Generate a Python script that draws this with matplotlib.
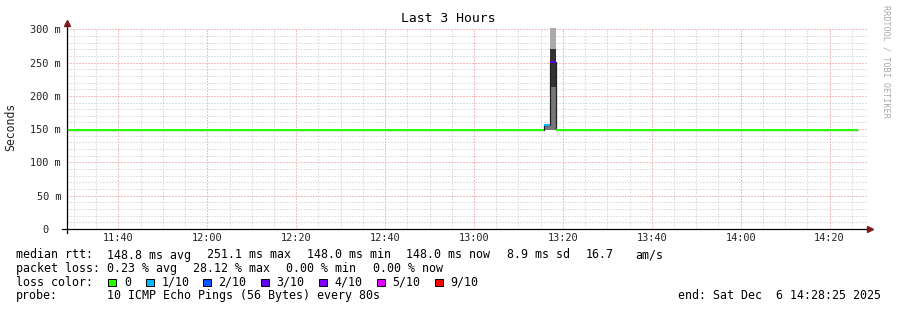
"""SmokePing 'Last 3 Hours' graph, redrawn with matplotlib."""

from datetime import datetime

import matplotlib

matplotlib.use("Agg")
import matplotlib.dates as mdates
import matplotlib.pyplot as plt
from matplotlib.patches import Rectangle

W, H = 897, 310
MONO = "DejaVu Sans Mono"

# --- data ---
day = "2025-12-06 "
t_start = "11:28:25"
t_end = "14:28:25"

# median rtt line: segments (start, end, value ms, loss count out of 10)
seg_start = ["11:28:25", "13:15:45", "13:17:05", "13:18:25"]
seg_end = ["13:15:45", "13:17:05", "13:18:25", "14:26:25"]
seg_median = [148.0, 156.0, 251.1, 148.0]
seg_loss = [0, 1, 3, 0]

# smoke bands around the median (start, end, low ms, high ms, grey)
smoke_start = ["13:15:45", "13:17:05", "13:17:05", "13:17:05"]
smoke_end = ["13:17:05", "13:18:25", "13:18:25", "13:18:25"]
smoke_low = [148.0, 148.0, 213.0, 271.0]
smoke_high = [156.0, 213.0, 271.0, 305.0]
smoke_grey = ["#777777", "#777777", "#333333", "#aaaaaa"]

loss_labels = ["0", "1/10", "2/10", "3/10", "4/10", "5/10", "9/10"]
loss_colors = ["#26ff00", "#00b8ff", "#0059ff", "#5e00ff", "#7e00ff", "#dd00ff", "#ff0000"]
loss_key = {0: 0, 1: 1, 2: 2, 3: 3, 4: 4, 5: 5, 9: 6}

y_ticks = [0, 50, 100, 150, 200, 250, 300]


def ts(s):
    return datetime.strptime(day + s, "%Y-%m-%d %H:%M:%S")


def fx(px):
    return px / W


def fy(py):
    return 1 - py / H


fig = plt.figure(figsize=(W / 100, H / 100), dpi=100)
fig.patch.set_facecolor("white")

# plot area: x 67..867 px, y 28..229 px
ax = fig.add_axes([fx(67), fy(229), 800 / W, 201 / H])
ax.set_facecolor("white")
ax.set_xlim(ts(t_start), ts(t_end))
ax.set_ylim(0, 301.9)

# grid: minor grey, major light red, both dotted
ax.xaxis.set_major_locator(mdates.MinuteLocator(byminute=[0, 20, 40]))
ax.xaxis.set_minor_locator(mdates.MinuteLocator(byminute=range(0, 60, 5)))
ax.xaxis.set_major_formatter(mdates.DateFormatter("%H:%M"))
ax.set_yticks(y_ticks)
ax.set_yticks(range(0, 301, 10), minor=True)
ax.set_yticklabels(["0  " if v == 0 else f"{v} m" for v in y_ticks])
ax.grid(which="minor", color="#c4c4c4", linestyle=(0, (1, 2)), linewidth=0.72)
ax.grid(which="major", color="#ee8080", linestyle=(0, (1, 2)), linewidth=0.72)
ax.set_axisbelow(True)
ax.tick_params(which="both", length=0)
ax.tick_params(axis="y", pad=4.3, labelsize=7.4, labelcolor="#222222")
ax.tick_params(axis="x", pad=3.0, labelsize=7.4, labelcolor="#222222")
for lab in ax.get_xticklabels() + ax.get_yticklabels():
    lab.set_fontfamily(MONO)
for sp in ax.spines.values():
    sp.set_visible(False)

# smoke
for a, b, lo, hi, c in zip(smoke_start, smoke_end, smoke_low, smoke_high, smoke_grey):
    ax.fill_between([ts(a), ts(b)], lo, hi, color=c, linewidth=0, zorder=2)

# thin dark step line under the coloured median
xs, ys = [], []
for a, b, m in zip(seg_start, seg_end, seg_median):
    xs += [ts(a), ts(b)]
    ys += [m, m]
ax.plot(xs, ys, color="#202020", linewidth=0.9, zorder=3, solid_capstyle="butt")

# coloured median segments
for a, b, m, lo in zip(seg_start, seg_end, seg_median, seg_loss):
    ax.plot([ts(a), ts(b)], [m, m], color=loss_colors[loss_key[lo]],
            linewidth=1.44, zorder=4, solid_capstyle="butt")

# axes lines with arrows (rrdtool style)
fig.add_artist(plt.Line2D([fx(62), fx(868)], [fy(229), fy(229)], color="black", lw=0.9))
fig.add_artist(plt.Line2D([fx(67), fx(67)], [fy(233), fy(24)], color="black", lw=0.9))
fig.add_artist(plt.Line2D([fx(870)], [fy(229)], marker=">", markersize=4.5,
                          color="#7a1a1a", linestyle="none"))
fig.add_artist(plt.Line2D([fx(67)], [fy(23)], marker="^", markersize=4.5,
                          color="#7a1a1a", linestyle="none"))

# titles
fig.text(fx(448), fy(19), "Last 3 Hours", ha="center", va="center",
         fontsize=9.4, family=MONO, color="black")
fig.text(fx(11), fy(127), "Seconds", ha="center", va="center", rotation=90,
         fontsize=8.3, family=MONO, color="#222222")
fig.text(fx(886), fy(5), "RRDTOOL / TOBI OETIKER", ha="center", va="top", rotation=270,
         fontsize=6.1, family=MONO, color="#aaaaaa")

# legend rows
fs = 8.4
rows = [
    (255, [(16, "median rtt:"), (107.3, "148.8 ms avg"), (207.3, "251.1 ms max"),
           (307.3, "148.0 ms min"), (406, "148.0 ms now"), (506.7, "8.9 ms sd"),
           (585.7, "16.7"), (635, "am/s")]),
    (268.5, [(16, "packet loss:"), (107.3, "0.23 % avg"), (193.3, "28.12 % max"),
             (286, "0.00 % min"), (372.7, "0.00 % now")]),
    (282, [(16, "loss color:")]),
    (295.5, [(16, "probe:"), (107.3, "10 ICMP Echo Pings (56 Bytes) every 80s")]),
]
for yc, items in rows:
    for x, s in items:
        fig.text(fx(x), fy(yc), s, ha="left", va="center", fontsize=fs, family=MONO,
                 color="black")
fig.text(fx(881), fy(295.5), "end: Sat Dec  6 14:28:25 2025", ha="right", va="center",
         fontsize=fs, family=MONO, color="black")

box_x = [108.3, 146, 202.7, 261, 319, 376.7, 435]
for bx, lab, c in zip(box_x, loss_labels, loss_colors):
    fig.add_artist(Rectangle((fx(bx), fy(286)), 8 / W, 7 / H, transform=fig.transFigure,
                             facecolor=c, edgecolor="black", linewidth=0.7))
    fig.text(fx(bx + 15.5), fy(282), lab, ha="left", va="center", fontsize=fs,
             family=MONO, color="black")

fig.savefig("out.png", dpi=100)
